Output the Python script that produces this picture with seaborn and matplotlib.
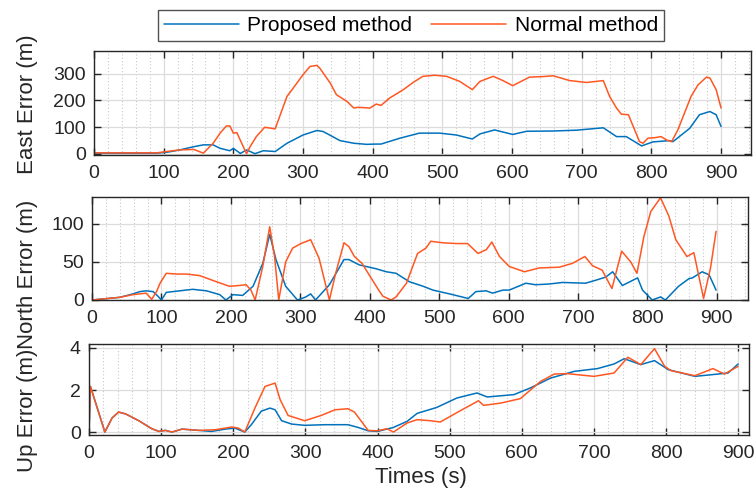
import matplotlib
matplotlib.use("Agg")
import matplotlib.pyplot as plt
import seaborn as sns
import numpy as np
from matplotlib.ticker import MultipleLocator

sns.set_theme(style="white")
plt.rcParams['font.family'] = ['Liberation Sans', 'DejaVu Sans']

BLUE = "#0072BD"
ORANGE = "#FF5722"

legend_labels = ["Proposed method", "Normal method"]
ylabels = ["East Error (m)", "North Error (m)", "Up Error (m)"]
xlabel = "Times (s)"

# ---- East ----
east_norm_t = [0, 40, 90, 104, 123, 143, 157, 171, 181, 190, 195, 200, 205, 212, 219, 224, 233, 245, 260, 277,
               286, 300, 310, 320, 324, 339, 348, 363, 373, 379, 396, 405, 412, 424, 444, 458, 472, 489, 506, 525,
               543, 554, 573, 587, 601, 625, 644, 659, 683, 707, 731, 740, 750, 757, 767, 774, 783, 788, 795, 805,
               814, 822, 829, 838, 857, 867, 879, 884, 893, 900]
east_norm_v = [3, 3, 3, 8, 14, 16, 2, 39, 77, 104, 104, 77, 79, 39, 0, 26, 64, 99, 93, 215,
               246, 296, 327, 331, 321, 265, 221, 196, 171, 174, 171, 186, 181, 208, 240, 267, 290, 294, 290, 271,
               240, 271, 290, 274, 255, 287, 289, 292, 274, 267, 274, 215, 171, 148, 146, 102, 45, 39, 58, 60,
               64, 51, 45, 89, 215, 258, 287, 284, 240, 171]
east_prop_t = [0, 40, 90, 104, 123, 143, 157, 171, 181, 195, 200, 210, 219, 231, 243, 260, 277, 300, 320, 329,
               353, 373, 391, 405, 412, 439, 467, 496, 520, 543, 554, 575, 601, 621, 659, 692, 731, 750, 764, 786,
               802, 826, 831, 855, 869, 884, 893, 900]
east_prop_v = [2, 2, 2, 5, 14, 26, 33, 33, 20, 11, 20, 1, 14, 0, 11, 8, 39, 70, 87, 83,
               49, 39, 35, 36, 36, 58, 77, 77, 70, 55, 74, 89, 72, 84, 85, 88, 97, 64, 64, 29,
               44, 49, 45, 95, 146, 158, 146, 102]

# ---- North ----
north_prop_t = [0, 40, 59, 69, 78, 88, 95, 100, 107, 126, 145, 165, 184, 193, 203, 217, 232, 246, 256, 265,
                279, 296, 308, 315, 322, 342, 363, 370, 385, 409, 424, 438, 457, 477, 491, 515, 542, 553, 568,
                577, 592, 601, 625, 639, 659, 678, 711, 726, 740, 750, 764, 786, 793, 807, 819, 826, 845, 860,
                865, 879, 889, 899]
north_prop_v = [0, 3.5, 8, 11, 12, 11, 5, 0, 10, 12, 14, 12, 7, 0, 7, 6, 18, 48, 86, 53,
                18, 0, 4, 8, 0, 20, 53, 53, 46, 41, 37, 35, 24, 18, 13, 8, 2, 11, 12,
                9, 13, 13, 22, 20, 21, 23, 22, 26, 30, 37, 19, 29, 13, 0, 4, 0, 18, 28,
                29, 37, 33, 13]
north_norm_t = [0, 40, 59, 78, 86, 93, 98, 107, 122, 136, 155, 179, 198, 212, 222, 229, 235, 246, 256, 263,
                269, 279, 289, 301, 315, 327, 342, 351, 363, 370, 378, 389, 404, 413, 419, 431, 438, 453, 469,
                481, 488, 505, 524, 541, 556, 568, 576, 587, 601, 623, 644, 673, 692, 710, 721, 735, 749, 763,
                776, 785, 795, 805, 819, 831, 841, 857, 867, 881, 891, 899]
north_norm_v = [0, 3.5, 7, 9, 1, 11, 22, 35, 34, 34, 32, 24, 18, 19, 20, 13, 0, 44, 96, 57,
                0, 50, 68, 74, 79, 55, 0, 35, 75, 70, 57, 48, 26, 13, 5, 0, 4, 22, 61,
                68, 77, 75, 74, 74, 61, 66, 76, 57, 44, 37, 42, 43, 48, 57, 45, 39, 15, 64,
                50, 35, 83, 116, 134, 110, 79, 57, 62, 2, 42, 90]

# ---- Up ----
up_prop_t = [0, 2, 22, 32, 41, 51, 69, 87, 97, 106, 115, 129, 152, 170, 189, 202, 216, 225, 239, 251,
             258, 267, 281, 299, 327, 359, 373, 387, 400, 422, 441, 455, 482, 510, 538, 552, 589, 612, 640,
             673, 705, 728, 742, 765, 784, 803, 840, 872, 886, 900]
up_prop_v = [0, 2.17, 0.0, 0.67, 0.95, 0.86, 0.54, 0.16, 0.03, 0.08, 0.0, 0.14, 0.08, 0.03, 0.14, 0.19, 0.0,
             0.35, 1.0, 1.14, 1.06, 0.54, 0.38, 0.32, 0.35, 0.35, 0.22, 0.06, 0.03, 0.22, 0.51, 0.89, 1.17,
             1.62, 1.86, 1.67, 1.78, 2.10, 2.57, 2.89, 3.02, 3.24, 3.49, 3.21, 3.40, 2.97, 2.65, 2.76, 2.81, 3.24]
up_norm_t = [0, 2, 22, 32, 41, 51, 69, 87, 97, 106, 115, 129, 152, 175, 198, 207, 216, 230, 244, 258,
             265, 276, 299, 322, 341, 359, 368, 387, 400, 413, 422, 441, 455, 473, 487, 515, 540, 547, 571,
             598, 626, 645, 663, 700, 728, 747, 765, 784, 798, 807, 840, 865, 881, 900]
up_norm_v = [0, 2.17, 0.0, 0.67, 0.95, 0.86, 0.54, 0.16, 0.03, 0.08, 0.0, 0.14, 0.08, 0.11, 0.24, 0.19, 0.0,
             1.14, 2.17, 2.33, 1.54, 0.79, 0.54, 0.79, 1.06, 1.11, 0.95, 0.08, 0.06, 0.16, 0.0, 0.43, 0.59,
             0.54, 0.48, 1.02, 1.49, 1.27, 1.38, 1.59, 2.41, 2.76, 2.78, 2.65, 2.81, 3.56, 3.21, 3.97, 3.13,
             2.92, 2.68, 3.02, 2.76, 3.13]

fig = plt.figure(figsize=(7.56, 4.91), dpi=100)
W, H = 756, 491

def box(l, r, t, b):
    return [l / W, 1 - b / H, (r - l) / W, (b - t) / H]

specs = [
    (box(94, 751, 51, 155), (0, 943), (-5, 385), [0, 100, 200, 300], ylabels[0],
     east_prop_t, east_prop_v, east_norm_t, east_norm_v, 104),
    (box(92, 748, 197, 300), (0, 945), (0, 135), [0, 50, 100], ylabels[1],
     north_prop_t, north_prop_v, north_norm_t, north_norm_v, 274),
    (box(89, 749, 344, 435), (0, 915), (-0.14, 4.19), [0, 2, 4], ylabels[2],
     up_prop_t, up_prop_v, up_norm_t, up_norm_v, 410),
]

spine_c = "#262626"
axes = []
for rect, xl, yl, yt, lab, pt, pv, nt, nv, ycen in specs:
    ax = fig.add_axes(rect)
    axes.append(ax)
    ax.xaxis.set_minor_locator(MultipleLocator(20))
    ax.set_xticks(range(0, 901, 100))
    ax.set_yticks(yt)
    ax.grid(True, which="major", color="#dcdcdc", lw=0.9, ls="-")
    ax.grid(True, which="minor", axis="x", color="#c8c8c8", lw=0.8, ls=(0, (1, 2)))
    ax.set_axisbelow(True)
    sns.lineplot(x=pt, y=pv, ax=ax, color=BLUE, lw=1.1, estimator=None, sort=False,
                 label=legend_labels[0])
    sns.lineplot(x=nt, y=nv, ax=ax, color=ORANGE, lw=1.1, estimator=None, sort=False,
                 label=legend_labels[1])
    ax.get_legend().remove()
    ax.set_xlim(*xl)
    ax.set_ylim(*yl)
    ax.set_xlabel("")
    ax.set_ylabel("")
    ax.tick_params(which="major", direction="in", length=5, width=1, color=spine_c,
                   top=True, right=True, bottom=True, left=True, labelsize=14,
                   labelcolor="#262626", pad=6)
    ax.tick_params(axis="x", which="major", pad=7)
    ax.tick_params(which="minor", length=0)
    for s in ax.spines.values():
        s.set_color(spine_c)
        s.set_linewidth(1.0)
    fig.text(28 / W, 1 - ycen / H, lab, rotation=90, ha="center", va="center",
             fontsize=16, color="#262626")

fig.text(421 / W, 1 - 478 / H, xlabel, ha="center", va="center", fontsize=16, color="#262626")

h, l = axes[0].get_legend_handles_labels()
leg = fig.legend(h, l, loc="center", bbox_to_anchor=(411 / W, 1 - 25.5 / H), ncol=2,
                 fontsize=15, frameon=True, fancybox=False, edgecolor=spine_c,
                 handlelength=3.6, handletextpad=0.4, columnspacing=0.9,
                 borderpad=0.3, borderaxespad=0)
leg.get_frame().set_linewidth(1.0)
for t in leg.get_texts():
    t.set_color("#000000")

fig.savefig("out.png", dpi=100)
